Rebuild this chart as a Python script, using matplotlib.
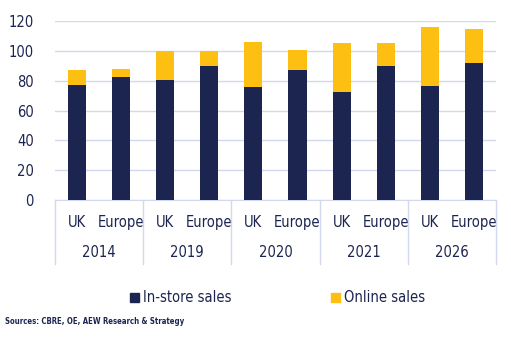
import matplotlib
matplotlib.use("Agg")
import matplotlib.pyplot as plt
import matplotlib.transforms as mtransforms
from matplotlib.patches import Rectangle

plt.rcParams["font.family"] = ["DejaVu Sans"]
plt.rcParams["font.stretch"] = "condensed"

NAVY = "#1c2550"
YELLOW = "#fdbf12"
GRID = "#d3d8ee"

years = ["2014", "2019", "2020", "2021", "2026"]
regions = ["UK", "Europe"]
instore = [77.1, 82.5, 80.4, 89.8, 75.8, 87.1, 72.4, 89.8, 76.4, 91.8]
online = [10.0, 5.3, 19.5, 10.1, 30.1, 13.4, 32.8, 15.4, 39.6, 22.8]

fig = plt.figure(figsize=(5.11, 3.40), dpi=100)
ax = fig.add_axes([0.107, 0.412, 0.864, 0.526])

x = list(range(len(instore)))
ax.bar(x, instore, width=0.41, color=NAVY, zorder=3)
ax.bar(x, online, width=0.41, bottom=instore, color=YELLOW, zorder=3)

ax.set_xlim(-0.5, len(x) - 0.5)
ax.set_ylim(0, 120)
ax.set_yticks(range(0, 121, 20))
ax.yaxis.grid(True, color=GRID, linewidth=1, zorder=0)
for s in ["top", "right", "left"]:
    ax.spines[s].set_visible(False)
ax.spines["bottom"].set_color(GRID)
ax.tick_params(axis="both", length=0, colors=NAVY, labelsize=10.5)
ax.tick_params(axis="y", pad=15)
ax.tick_params(axis="x", pad=11)
ax.set_xticks(x)
ax.set_xticklabels(regions * len(years))

trans = mtransforms.blended_transform_factory(ax.transData, ax.transAxes)
for i in range(len(years) + 1):
    xp = i * 2 - 0.5
    ax.plot([xp, xp], [0, -0.357], transform=trans, color=GRID, lw=1, clip_on=False)
for i, yr in enumerate(years):
    ax.text(i * 2 + 0.5, -0.296, yr, transform=trans, ha="center", va="center",
            color=NAVY, fontsize=10.5)

# legend drawn by hand so the gap between the two entries matches
ly = 1 - 297 / 340
for x0, col, lab in [(130, NAVY, "In-store sales"), (331, YELLOW, "Online sales")]:
    fig.patches.append(Rectangle((x0 / 511, ly - 4.5 / 340), 9 / 511, 9 / 340,
                                 color=col, transform=fig.transFigure))
    fig.text((x0 + 13) / 511, ly, lab, color=NAVY, fontsize=10.5, va="center", ha="left")

fig.text(5 / 511, 1 - 322 / 340, "Sources: CBRE, OE, AEW Research & Strategy",
         color=NAVY, fontsize=5.6, fontweight="bold", va="center", ha="left")

fig.savefig("out.png", dpi=100)
